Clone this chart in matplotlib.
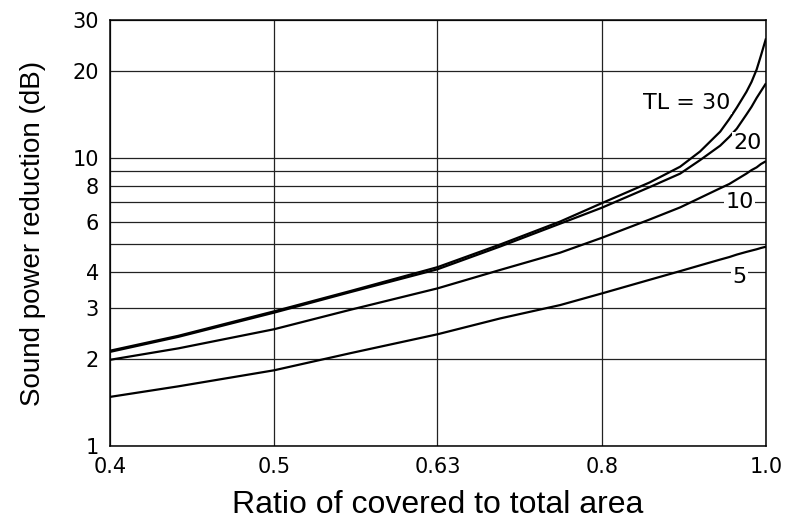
import matplotlib
matplotlib.use("Agg")
import matplotlib.pyplot as plt
from matplotlib.ticker import NullLocator

# values (x = ratio of covered area, y = dB)
ratio = [0.40, 0.44, 0.503, 0.56, 0.632, 0.69, 0.75, 0.795, 0.85, 0.887,
         0.912, 0.938, 0.95, 0.96, 0.973, 0.98, 0.987, 0.993, 1.0]
tl30 = [2.14, 2.41, 2.93, 3.45, 4.17, 5.0, 6.0, 6.95, 8.2, 9.3,
        10.5, 12.3, 13.6, 14.9, 16.9, 18.3, 20.2, 22.6, 25.9]
tl20 = [2.12, 2.39, 2.90, 3.42, 4.10, 4.92, 5.9, 6.7, 7.9, 8.8,
        9.8, 11.0, 11.8, 12.6, 14.1, 15.0, 16.1, 17.0, 18.1]
tl10 = [1.99, 2.18, 2.54, 2.97, 3.52, 4.08, 4.68, 5.27, 6.1, 6.72,
        7.25, 7.83, 8.1, 8.4, 8.8, 9.05, 9.25, 9.5, 9.72]
tl5 = [1.48, 1.61, 1.83, 2.10, 2.44, 2.77, 3.08, 3.38, 3.77, 4.04,
       4.23, 4.43, 4.52, 4.61, 4.71, 4.76, 4.81, 4.86, 4.91]

# curve labels: (text, x, y)
curve_labels = [("TL = 30", 0.895, 15.5), ("20", 0.974, 11.2),
                ("10", 0.964, 7.0), ("5", 0.964, 3.85)]

x_ticks = [0.4, 0.503, 0.632, 0.795, 1.0]
x_ticklabels = ["0.4", "0.5", "0.63", "0.8", "1.0"]
y_ticks = [1, 2, 3, 4, 5, 6, 7, 8, 9, 10, 20, 30]
y_ticklabels = ["1", "2", "3", "4", "", "6", "", "8", "", "10", "20", "30"]

fig = plt.figure(figsize=(7.91, 5.23), dpi=100)
ax = fig.add_axes([110 / 791, 77 / 523, 656 / 791, 426 / 523])

ax.set_xscale("log")
ax.set_yscale("log")
ax.set_xlim(0.4, 1.0)
ax.set_ylim(1, 30)

for ys in (tl30, tl20, tl10, tl5):
    ax.plot(ratio, ys, color="black", lw=1.6, solid_capstyle="butt",
            solid_joinstyle="round", zorder=3)

ax.set_xticks(x_ticks)
ax.set_xticklabels(x_ticklabels)
ax.set_yticks(y_ticks)
ax.set_yticklabels(y_ticklabels)
ax.xaxis.set_minor_locator(NullLocator())
ax.yaxis.set_minor_locator(NullLocator())
ax.tick_params(length=0, labelsize=15, pad=8)
for lab in ax.get_xticklabels() + ax.get_yticklabels():
    lab.set_family("DejaVu Sans")

ax.grid(True, color="#222222", lw=0.9)
for sp in ax.spines.values():
    sp.set_linewidth(1.1)

for txt, x, y in curve_labels:
    ax.text(x, y, txt, ha="center", va="center", fontsize=16, family="DejaVu Sans",
            zorder=4, bbox=dict(facecolor="white", edgecolor="none", pad=1.0))

ax.set_xlabel("Ratio of covered to total area", fontsize=23, family="Liberation Sans", labelpad=9)
ax.set_ylabel("Sound power reduction (dB)", fontsize=20, family="Liberation Sans", labelpad=19)

fig.savefig("out.png", dpi=100)
